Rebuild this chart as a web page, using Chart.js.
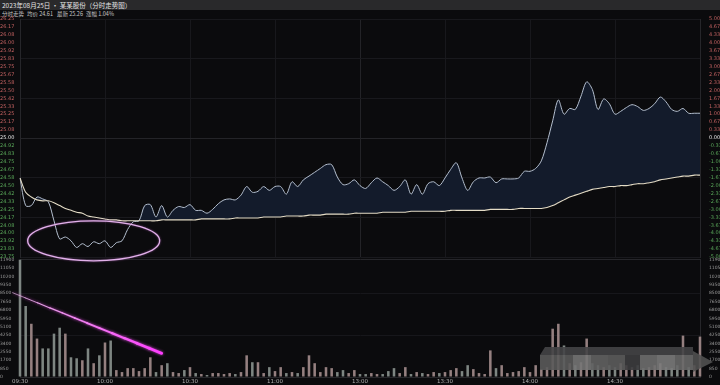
<!DOCTYPE html>
<html><head><meta charset="utf-8">
<script src="https://cdn.jsdelivr.net/npm/chart.js@4.4.0/dist/chart.umd.min.js"></script>
<style>
html,body{margin:0;padding:0;background:#0b0b0d;width:720px;height:385px;overflow:hidden;font-family:"Noto Sans CJK SC","Noto Sans",sans-serif;}
#t1{position:absolute;left:0;top:0;width:720px;height:10px;background:#29292b;}
#t1 span{position:absolute;left:2px;top:0;font-size:6.5px;line-height:10px;color:#e2e2e2;white-space:nowrap;}
#t2{position:absolute;left:0;top:10px;width:720px;height:8px;}
#t2 span{position:absolute;top:0;font-size:5.5px;line-height:8px;color:#c8c8c8;white-space:nowrap;}
#vc{position:absolute;left:0;top:256px;}
#pc{position:absolute;left:0;top:0;pointer-events:none;}
</style></head>
<body>
<div id="t1"><span>2023年08月25日 · 某某股份（分时走势图）</span></div>
<div id="t2"><span style="left:2px">分时走势</span><span style="left:27px">均价 24.61</span><span style="left:57px">最新 25.26</span><span style="left:86px">涨幅 1.04%</span></div>
<canvas id="vc" width="720" height="129"></canvas>
<canvas id="pc" width="720" height="272"></canvas>
<script>
// ---- data ----
const tickLabels = ['09:30','10:00','10:30','11:00','13:00','13:30','14:00','14:30',''];
const prevClose = 25.00;
const pctRange = 5; // axis range in percent
const price = [24.58,24.29,24.29,24.38,24.36,24.33,24.13,23.94,23.96,23.92,
23.85,23.89,23.86,23.91,23.89,23.92,23.85,23.90,23.92,24.04,
24.12,24.13,24.29,24.30,24.17,24.29,24.17,24.24,24.28,24.27,
24.30,24.24,24.24,24.21,24.25,24.31,24.35,24.36,24.35,24.40,
24.49,24.43,24.44,24.49,24.45,24.49,24.49,24.41,24.54,24.49,
24.56,24.60,24.64,24.68,24.72,24.72,24.59,24.51,24.52,24.56,
24.50,24.47,24.53,24.58,24.54,24.50,24.45,24.49,24.56,24.41,
24.51,24.41,24.52,24.54,24.50,24.58,24.67,24.74,24.58,24.45,
24.54,24.58,24.58,24.59,24.53,24.57,24.57,24.57,24.58,24.65,
24.65,24.68,24.76,24.95,25.18,25.40,25.25,25.31,25.30,25.44,
25.59,25.51,25.30,25.41,25.36,25.25,25.28,25.32,25.35,25.33,
25.29,25.31,25.36,25.43,25.38,25.30,25.28,25.31,25.26,25.26,
25.26];
const avgPrice = [24.58,24.43,24.38,24.35,24.34,24.34,24.32,24.29,24.26,24.24,
24.22,24.21,24.18,24.17,24.16,24.15,24.14,24.14,24.13,24.13,
24.13,24.13,24.13,24.13,24.13,24.14,24.14,24.14,24.14,24.14,
24.14,24.14,24.15,24.15,24.15,24.15,24.15,24.15,24.16,24.16,
24.16,24.16,24.16,24.17,24.17,24.17,24.17,24.18,24.18,24.18,
24.18,24.19,24.19,24.19,24.20,24.20,24.20,24.20,24.20,24.21,
24.21,24.21,24.21,24.21,24.22,24.22,24.22,24.22,24.22,24.23,
24.23,24.23,24.23,24.23,24.23,24.23,24.24,24.24,24.24,24.24,
24.24,24.24,24.24,24.25,24.25,24.25,24.25,24.25,24.26,24.26,
24.26,24.26,24.26,24.27,24.29,24.32,24.35,24.38,24.40,24.42,
24.44,24.46,24.47,24.48,24.49,24.49,24.50,24.50,24.51,24.52,
24.52,24.53,24.54,24.56,24.57,24.58,24.59,24.60,24.60,24.61,
24.61];
const volume = [11900,7200,5400,3900,2900,2900,4400,5000,4400,2000,
1900,1700,2900,1400,2200,3500,3700,700,500,900,
900,600,900,2000,500,1200,1400,500,400,700,
1000,400,300,200,400,400,300,400,300,500,
2200,1500,1500,400,1000,600,1000,400,500,400,
1000,2200,1400,500,1000,900,500,700,400,700,
300,300,400,300,300,600,900,400,1000,300,
500,400,300,500,400,500,700,900,600,1200,
800,400,300,2700,900,1200,400,500,600,1000,
500,1200,800,1000,4900,5400,3200,1400,1200,1500,
3900,1400,1200,1000,1200,1000,1400,1200,1000,1200,
900,1000,1200,1400,1000,900,1200,4200,1000,1200,
4100];
const volMax = 11900;

// ---- categories: 2-minute steps, 09:30-11:30 and 13:00-15:00 ----
const times = [];
for (let i = 0; i < price.length; i++) {
  const m = i <= 60 ? 570 + 2 * i : 780 + 2 * (i - 60);
  times.push(String(Math.floor(m / 60)).padStart(2, '0') + ':' + String(m % 60).padStart(2, '0'));
}
const volColors = volume.map((v, i) => (i === 0 ? price[0] >= prevClose : price[i] >= price[i - 1]) ? '#958080' : '#7e8682');

const span = prevClose * pctRange / 100;
const pMin = prevClose - span, pMax = prevClose + span;
const steps = 15;
function priceTicks(scale) {
  const t = [];
  for (let k = -steps; k <= steps; k++) t.push({ value: prevClose + span * k / steps });
  scale.ticks = t;
}
function tickColor(ctx) {
  const v = ctx.tick.value;
  if (Math.abs(v - prevClose) < 1e-6) return '#e8e8e8';
  return v > prevClose ? '#c06060' : '#5aa85a';
}
function hGrid(ctx) {
  const k = Math.round((ctx.tick.value - prevClose) / span * steps);
  if (k === 0) return '#242428';
  return (k % 5 === 0) ? '#19191d' : 'rgba(0,0,0,0)';
}
const vGrid = ctx => (ctx.index % 15 === 0) ? (ctx.index === 60 ? '#232327' : '#18181c') : 'rgba(0,0,0,0)';

Chart.defaults.font.family = '"DejaVu Sans", "Noto Sans", sans-serif';

const annotate = {
  id: 'annotate',
  afterDraw(chart) {
    const c = chart.ctx, x = chart.scales.x, y = chart.scales.y;
    const cx = x.getPixelForValue(13), cy = y.getPixelForValue(23.92);
    c.save();
    c.strokeStyle = '#e2b2ea';
    c.lineWidth = 1.3;
    c.shadowColor = 'rgba(220,120,230,0.6)';
    c.shadowBlur = 2;
    c.beginPath();
    c.ellipse(cx, cy, 66, 20, 0, 0, Math.PI * 2);
    c.stroke();
    c.restore();
  }
};

new Chart(document.getElementById('pc'), {
  type: 'line',
  data: { labels: times, datasets: [
    { label: '均价', data: avgPrice, borderColor: '#e4dcc6', borderWidth: 1.1, pointRadius: 0, tension: 0.3, fill: false, yAxisID: 'y' },
    { label: '价格', data: price, borderColor: '#b4bfcf', borderWidth: 1, pointRadius: 0, tension: 0.3,
      fill: { target: 0, above: '#131b2b', below: 'rgba(0,0,0,0)' }, yAxisID: 'y' }
  ]},
  options: {
    responsive: false, animation: false,
    layout: { padding: { top: 19, bottom: 15, left: 0, right: 0 } },
    plugins: { legend: { display: false }, tooltip: { enabled: false } },
    scales: {
      x: { offset: false, ticks: { display: false }, grid: { color: vGrid, drawTicks: false }, border: { display: false },
           afterFit: s => { s.height = 0; } },
      y: { position: 'left', min: pMin, max: pMax, afterBuildTicks: priceTicks, afterFit: s => { s.width = 20; },
           ticks: { autoSkip: false, font: { size: 5 }, color: tickColor, padding: 1, crossAlign: 'far', callback: v => v.toFixed(2) },
           grid: { color: hGrid, drawTicks: false }, border: { display: true, color: '#26262a' } },
      y1: { position: 'right', min: pMin, max: pMax, afterBuildTicks: priceTicks, afterFit: s => { s.width = 20; },
           ticks: { autoSkip: false, font: { size: 5 }, color: tickColor, padding: 1,
                    callback: v => ((v - prevClose) / prevClose * 100).toFixed(2) + '%' },
           grid: { display: false }, border: { display: true, color: '#26262a' } }
    }
  },
  plugins: [annotate]
});

const volDecor = {
  id: 'volDecor',
  afterDraw(chart) {
    const c = chart.ctx, x = chart.scales.x, y = chart.scales.y;
    // magenta stroke
    const x0 = x.getPixelForValue(-1.3), y0 = y.getPixelForValue(8550);
    const x1 = x.getPixelForValue(25), y1 = y.getPixelForValue(2400);
    c.save();
    const g = c.createLinearGradient(x0, y0, x1, y1);
    g.addColorStop(0, 'rgba(240,200,240,0.9)');
    g.addColorStop(1, 'rgba(255,60,255,1)');
    c.strokeStyle = g;
    c.shadowColor = 'rgba(255,80,255,0.8)';
    c.shadowBlur = 3;
    c.lineCap = 'round';
    const n = 12;
    for (let k = 0; k < n; k++) {
      c.lineWidth = 0.7 + 2.3 * k / n;
      c.beginPath();
      c.moveTo(x0 + (x1 - x0) * k / n, y0 + (y1 - y0) * k / n);
      c.lineTo(x0 + (x1 - x0) * (k + 1) / n, y0 + (y1 - y0) * (k + 1) / n);
      c.stroke();
    }
    c.restore();
    // blurred watermark block (bottom right)
    c.save();
    c.globalAlpha = 0.9;
    const base = chart.chartArea.bottom;
    c.fillStyle = '#444446';
    c.beginPath();
    c.moveTo(540, base - 22); c.lineTo(545, base - 30); c.lineTo(693, base - 30); c.lineTo(693, base - 22); c.closePath(); c.fill();
    const segs = [[540, 573, '#5a5a5a'], [573, 591, '#747474'], [591, 608, '#626262'], [608, 625, '#5c5c5c'],
                  [625, 640, '#3c3c3e'], [640, 657, '#6e6e6e'], [657, 675, '#7a7a7a'], [675, 693, '#686868']];
    segs.forEach(s => { c.fillStyle = s[2]; c.fillRect(s[0], base - 22, s[1] - s[0], 15); });
    c.fillStyle = '#505050';
    c.beginPath();
    c.moveTo(693, base - 26); c.lineTo(713, base - 15); c.lineTo(693, base - 5); c.closePath(); c.fill();
    c.restore();
  }
};

const volTicks = scale => {
  const t = [];
  for (let k = 0; k <= 14; k++) t.push({ value: volMax * k / 14 });
  scale.ticks = t;
};

new Chart(document.getElementById('vc'), {
  type: 'bar',
  data: { labels: times, datasets: [
    { label: '成交量', data: volume, backgroundColor: volColors, barPercentage: 0.45, categoryPercentage: 1, clip: false }
  ]},
  options: {
    responsive: false, animation: false,
    layout: { padding: { top: 2, bottom: 0, left: 0, right: 0 } },
    plugins: { legend: { display: false }, tooltip: { enabled: false } },
    scales: {
      x: { offset: false, grid: { color: vGrid, drawTicks: false, offset: false }, border: { display: true, color: '#26262a' },
           afterFit: s => { s.height = 8; },
           ticks: { autoSkip: false, maxRotation: 0, padding: 1, font: { size: 5.5 }, color: '#b0b0b0',
                    callback: (v, i) => (i % 15 === 0) ? tickLabels[i / 15] : null } },
      y: { position: 'left', min: 0, max: volMax, afterBuildTicks: volTicks, afterFit: s => { s.width = 20; },
           ticks: { autoSkip: false, font: { size: 4.5 }, color: '#9a9a9a', padding: 1, crossAlign: 'far', callback: v => Math.round(v) },
           grid: { color: ctx => (ctx.index === 14 ? '#26262a' : (ctx.index % 5 === 0 && ctx.index > 0 ? '#17171b' : 'rgba(0,0,0,0)')), drawTicks: false },
           border: { display: true, color: '#26262a' } },
      y1: { position: 'right', min: 0, max: volMax, afterBuildTicks: volTicks, afterFit: s => { s.width = 20; },
           ticks: { autoSkip: false, font: { size: 4.5 }, color: '#9a9a9a', padding: 1, callback: v => Math.round(v) },
           grid: { display: false }, border: { display: true, color: '#26262a' } }
    }
  },
  plugins: [volDecor]
});
</script>
</body></html>
